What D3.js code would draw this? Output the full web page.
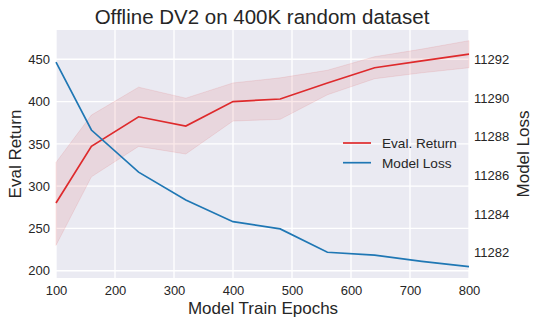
<!DOCTYPE html>
<meta charset="utf-8">
<style>
body { margin: 0; background: #fff; }
text { font-family: "Liberation Sans", Arial, sans-serif; fill: #262626; }
.tick text { font-size: 13px; }
.grid line { stroke: #fff; stroke-width: 1.3px; }
</style>
<svg width="539" height="324"></svg>
<script src="https://d3js.org/d3.v7.min.js"></script>
<script>

// data
var epochs     = [100, 160, 240, 320, 400, 480, 560, 640, 720, 800];
var evalMean   = [280, 347, 382, 371, 400, 403, 422, 440, 448, 456];
var evalLow    = [230, 311, 347, 338, 377, 379, 408, 427, 434, 440];
var evalHigh   = [328, 384, 417, 404, 422, 428, 437, 453, 462, 472];
var modelLoss  = [11291.85, 11288.34, 11286.16, 11284.72, 11283.6, 11283.23, 11282.02, 11281.87, 11281.55, 11281.28];
var xTicks     = [100, 200, 300, 400, 500, 600, 700, 800];
var leftTicks  = [200, 250, 300, 350, 400, 450];
var rightTicks = [11282, 11284, 11286, 11288, 11290, 11292];

var svg = d3.select("svg"),
    margin = {top: 30, right: 70, bottom: 46, left: 56},
    width = 469 - margin.left,
    height = 278 - margin.top,
    g = svg.append("g").attr("transform", "translate(" + margin.left + "," + margin.top + ")");

var x = d3.scaleLinear().domain([100, 800]).range([0, width]);
var y = d3.scaleLinear().domain([191.4, 484.6]).range([height, 0]);
var y2 = d3.scaleLinear().domain([11280.69, 11293.51]).range([height, 0]);

g.append("rect").attr("width", width).attr("height", height).attr("fill", "#eaeaf2");

var grid = g.append("g").attr("class", "grid");
grid.selectAll(".v").data(xTicks).enter().append("line")
    .attr("x1", x).attr("x2", x).attr("y1", 0).attr("y2", height);
grid.selectAll(".h").data(leftTicks).enter().append("line")
    .attr("y1", y).attr("y2", y).attr("x1", 0).attr("x2", width);

var pts = epochs.map(function(e, i) {
  return {e: e, m: evalMean[i], lo: evalLow[i], hi: evalHigh[i], loss: modelLoss[i]};
});

g.append("path").datum(pts)
    .attr("fill", "#d62728").attr("fill-opacity", 0.1)
    .attr("stroke", "#d62728").attr("stroke-opacity", 0.1)
    .attr("d", d3.area().x(function(d) { return x(d.e); })
      .y0(function(d) { return y(d.lo); }).y1(function(d) { return y(d.hi); }));

g.append("path").datum(pts)
    .attr("fill", "none").attr("stroke", "#de2a2c").attr("stroke-width", 1.7)
    .attr("d", d3.line().x(function(d) { return x(d.e); }).y(function(d) { return y(d.m); }));

g.append("path").datum(pts)
    .attr("fill", "none").attr("stroke", "#1f77b4").attr("stroke-width", 1.7)
    .attr("d", d3.line().x(function(d) { return x(d.e); }).y(function(d) { return y2(d.loss); }));

// axes, no lines, just labels
var ax = g.append("g").attr("transform", "translate(0," + height + ")")
    .call(d3.axisBottom(x).tickValues(xTicks).tickSize(0).tickPadding(8));
var ay = g.append("g")
    .call(d3.axisLeft(y).tickValues(leftTicks).tickSize(0).tickPadding(6));
var ay2 = g.append("g").attr("transform", "translate(" + width + ",0)")
    .call(d3.axisRight(y2).tickValues(rightTicks).tickFormat(d3.format("d")).tickSize(0).tickPadding(5));
[ax, ay, ay2].forEach(function(a) { a.select(".domain").remove(); });

svg.append("text").attr("x", 262).attr("y", 24).attr("text-anchor", "middle")
    .style("font-size", "20.5px").text("Offline DV2 on 400K random dataset");
svg.append("text").attr("x", 263).attr("y", 314).attr("text-anchor", "middle")
    .style("font-size", "17px").text("Model Train Epochs");
svg.append("text").attr("transform", "translate(21,154) rotate(-90)").attr("text-anchor", "middle")
    .style("font-size", "17px").text("Eval Return");
svg.append("text").attr("transform", "translate(529,154) rotate(-90)").attr("text-anchor", "middle")
    .style("font-size", "17px").text("Model Loss");

// legend
var legend = [["Eval. Return", "#de2a2c"], ["Model Loss", "#1f77b4"]];
var lg = svg.selectAll(".legend").data(legend).enter().append("g")
    .attr("transform", function(d, i) { return "translate(343," + (143 + i * 19.7) + ")"; });
lg.append("line").attr("x1", 0).attr("x2", 28).attr("stroke", function(d) { return d[1]; }).attr("stroke-width", 1.7);
lg.append("text").attr("x", 39).attr("y", 4.8).style("font-size", "13.6px").text(function(d) { return d[0]; });

</script>
